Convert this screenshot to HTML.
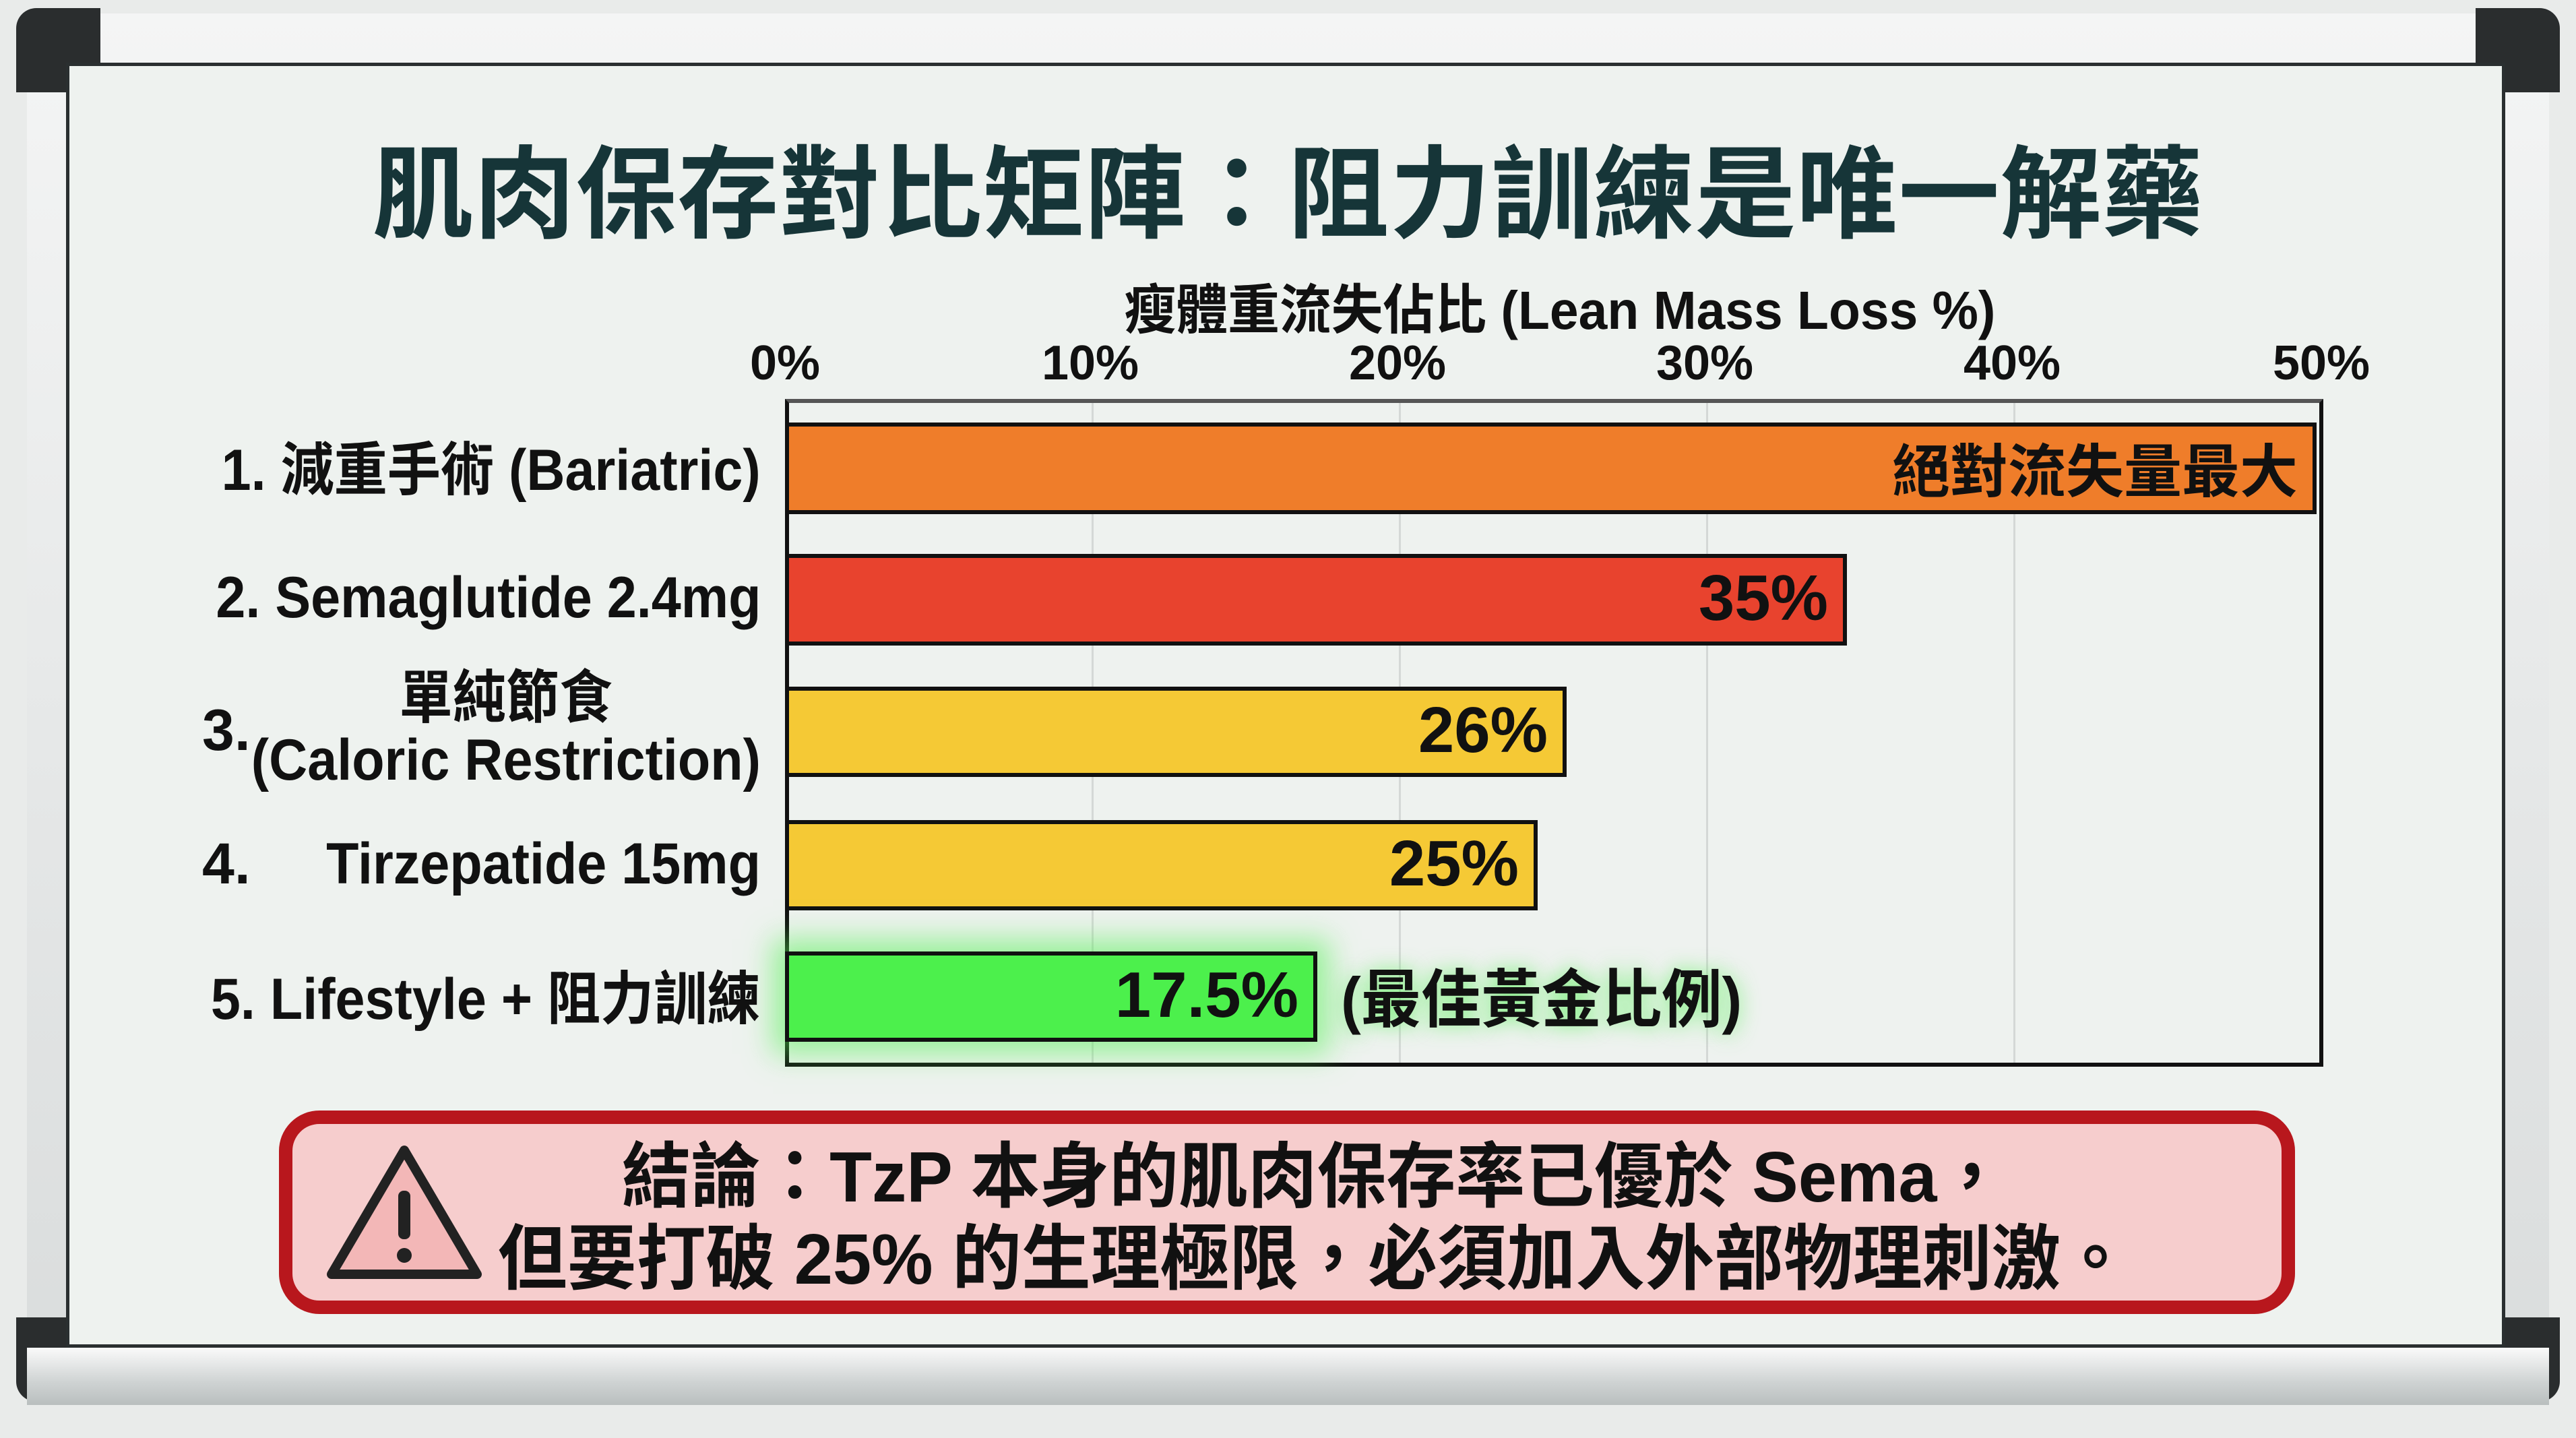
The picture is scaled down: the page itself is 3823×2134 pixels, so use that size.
<!DOCTYPE html>
<html><head><meta charset="utf-8"><style>
*{margin:0;padding:0;box-sizing:border-box}
body{width:3823px;height:2134px;overflow:hidden;background:#e9ebea;position:relative;font-family:"Liberation Sans","Noto Sans CJK TC",sans-serif;font-weight:bold;color:#111}
.abs{position:absolute}
.frame{left:40px;top:20px;width:3743px;height:2065px;background:linear-gradient(#f4f5f5,#d9dcdc);border-radius:14px}
.corner{width:125px;height:125px;background:#2a2d2e}
.tray{left:40px;top:2000px;width:3743px;height:85px;background:linear-gradient(#fafafa,#cfd3d3 60%,#b9bebe);}
.lbl{right:2694px;font-size:86px;text-align:right;white-space:nowrap;color:#111;transform:scaleX(0.92);transform-origin:right center}
.bar{left:1165px;border:6px solid #111;}
.bt{position:absolute;right:22px;top:50%;transform:translateY(-52%);font-size:96px;color:#111;white-space:nowrap}
.tick{top:498px;font-size:72px;width:200px;margin-left:-100px;text-align:center}
.grid{top:592px;height:988px;width:3px;background:#d4d8d6}
</style></head><body>
<div class="abs frame"></div>
<div class="abs corner" style="left:24px;top:12px;border-radius:30px 0 0 0"></div>
<div class="abs corner" style="left:3674px;top:12px;border-radius:0 30px 0 0"></div>
<div class="abs corner" style="left:24px;top:1955px;border-radius:0 0 0 30px"></div>
<div class="abs corner" style="left:3674px;top:1955px;border-radius:0 0 30px 0"></div>
<div class="abs" style="left:98px;top:93px;width:3620px;height:1907px;background:#eef2ef;border:5px solid #2a2f30"></div>
<div class="abs tray"></div>

<div class="abs" style="left:0;width:3823px;top:168px;text-align:center;font-size:150px;color:#163538;letter-spacing:1px">肌肉保存對比矩陣：阻力訓練是唯一解藥</div>
<div class="abs" style="left:1165px;width:2300px;top:396px;text-align:center;font-size:80px;color:#111;transform:scaleX(0.96)">瘦體重流失佔比 (Lean Mass Loss %)</div>

<div class="abs grid" style="left:1620px"></div>
<div class="abs grid" style="left:2076px"></div>
<div class="abs grid" style="left:2532px"></div>
<div class="abs grid" style="left:2988px"></div>

<div class="abs tick" style="left:1165px">0%</div>
<div class="abs tick" style="left:1618px">10%</div>
<div class="abs tick" style="left:2074px">20%</div>
<div class="abs tick" style="left:2530px">30%</div>
<div class="abs tick" style="left:2986px">40%</div>
<div class="abs tick" style="left:3445px">50%</div>

<div class="abs" style="left:1165px;top:592px;width:2283px;height:991px;border:6px solid #111;border-top-color:#555"></div>

<div class="abs bar" style="top:627px;width:2273px;height:136px;background:#ef7d2a"><span class="bt" style="font-size:86px">絕對流失量最大</span></div>
<div class="abs bar" style="top:822px;width:1576px;height:136px;background:#e8432e"><span class="bt">35%</span></div>
<div class="abs bar" style="top:1019px;width:1160px;height:134px;background:#f5c935"><span class="bt">26%</span></div>
<div class="abs bar" style="top:1217px;width:1117px;height:134px;background:#f5c935"><span class="bt">25%</span></div>
<div class="abs bar" style="top:1412px;width:790px;height:134px;background:#4cf04c;box-shadow:0 0 40px 18px rgba(80,240,80,.55)"><span class="bt">17.5%</span></div>
<div class="abs" style="left:1990px;top:1408px;font-size:94px;text-shadow:0 0 30px rgba(80,240,80,.7);transform:scaleX(0.95);transform-origin:left center">(最佳黃金比例)</div>

<div class="abs lbl" style="top:627px">1. 減重手術 (Bariatric)</div>
<div class="abs lbl" style="top:838px">2. Semaglutide 2.4mg</div>
<div class="abs lbl" style="top:990px;line-height:92px;text-align:center">單純節食<br>(Caloric Restriction)</div>
<div class="abs" style="left:300px;top:1035px;font-size:86px">3.</div>
<div class="abs" style="left:300px;top:1233px;font-size:86px">4.</div>
<div class="abs lbl" style="top:1233px">Tirzepatide 15mg</div>
<div class="abs lbl" style="top:1412px">5. Lifestyle + 阻力訓練</div>

<div class="abs" style="left:414px;top:1648px;width:2992px;height:302px;background:#f6cdcd;border:20px solid #b8171d;border-radius:60px"></div>
<svg class="abs" style="left:480px;top:1695px" width="240" height="210" viewBox="0 0 240 210">
<path d="M120 12 L228 196 L12 196 Z" fill="#f3b7b7" stroke="#222" stroke-width="14" stroke-linejoin="round"/>
<rect x="111" y="72" width="18" height="72" rx="8" fill="#222"/>
<circle cx="120" cy="168" r="11" fill="#222"/>
</svg>
<div class="abs" style="left:500px;width:2900px;top:1686px;text-align:center;font-size:106px;line-height:122px;color:#111;transform:scaleX(0.97)">結論：TzP 本身的肌肉保存率已優於 Sema，<br>但要打破 25% 的生理極限，必須加入外部物理刺激。</div>
</body></html>
